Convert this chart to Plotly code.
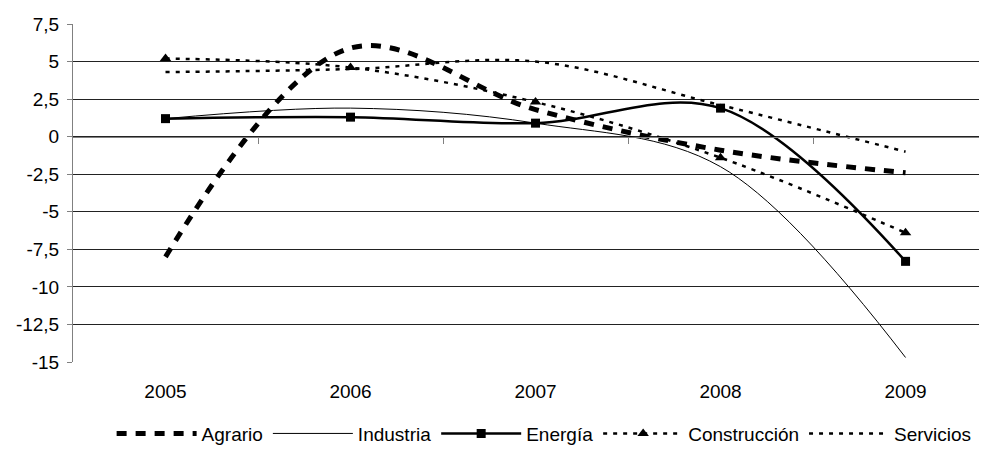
import plotly.graph_objects as go

years = ["2005", "2006", "2007", "2008", "2009"]
agrario = [-8.0, 5.9, 1.8, -0.9, -2.4]
industria = [1.2, 1.9, 0.9, -2.0, -14.7]
energia = [1.2, 1.3, 0.9, 1.9, -8.3]
construccion = [5.2, 4.6, 2.3, -1.4, -6.4]
servicios = [4.3, 4.5, 5.0, 2.1, -1.0]

ytick_vals = [7.5, 5, 2.5, 0, -2.5, -5, -7.5, -10, -12.5, -15]
ytick_text = ["7,5", "5", "2,5", "0", "-2,5", "-5", "-7,5", "-10", "-12,5", "-15"]

x = list(range(len(years)))
FONT = "Liberation Sans, Arial, sans-serif"
XMAX = 4.397

fig = go.Figure()
fig.add_trace(go.Scatter(x=x, y=agrario, name="Agrario", mode="lines",
                         line=dict(color="black", width=5, dash="10px,9px", shape="spline", smoothing=1)))
fig.add_trace(go.Scatter(x=x, y=industria, name="Industria", mode="lines",
                         line=dict(color="black", width=1, shape="spline", smoothing=1)))
fig.add_trace(go.Scatter(x=x, y=energia, name="Energía", mode="lines+markers",
                         line=dict(color="black", width=2.5, shape="spline", smoothing=1),
                         marker=dict(symbol="square", size=9, color="black")))
fig.add_trace(go.Scatter(x=x, y=construccion, name="Construcción", mode="lines+markers",
                         line=dict(color="black", width=2.5, dash="4px,6px", shape="spline", smoothing=1),
                         marker=dict(symbol="triangle-up", size=10, color="black")))
fig.add_trace(go.Scatter(x=x, y=servicios, name="Servicios", mode="lines",
                         line=dict(color="black", width=2.5, dash="4px,6px", shape="spline", smoothing=1)))

fig.update_layout(
    width=971, height=445, autosize=False,
    margin=dict(l=65, r=0, t=16, b=91),
    paper_bgcolor="white", plot_bgcolor="white",
    font=dict(family=FONT, size=19, color="black"),
    xaxis=dict(range=[-0.5, XMAX], tickvals=x, ticktext=years, showgrid=False,
               zeroline=False, showline=False, ticks="", ticklabelstandoff=16,
               tickfont=dict(size=19)),
    xaxis2=dict(overlaying="x", anchor="free", position=15/22.5, range=[-0.5, XMAX],
                tickvals=[0.5, 1.5, 2.5, 3.5], ticktext=["", "", "", ""],
                ticks="outside", ticklen=6, tickcolor="#808080", showline=True,
                linecolor="#808080", linewidth=1, showgrid=False, zeroline=False),
    yaxis=dict(range=[-15, 7.5], tickvals=ytick_vals, ticktext=ytick_text,
               showgrid=True, gridcolor="#222222", gridwidth=1, zeroline=False,
               showline=True, linecolor="#808080", linewidth=1,
               ticks="outside", ticklen=5, tickcolor="#808080",
               tickfont=dict(size=19), ticklabelstandoff=4),
    legend=dict(orientation="h", x=0.52, xanchor="center", y=-0.268, yanchor="bottom",
                font=dict(size=19), itemwidth=80, traceorder="normal"),
    showlegend=True,
)
fig.add_trace(go.Scatter(x=[None], y=[None], xaxis="x2", showlegend=False, hoverinfo="skip"))

fig.write_html("out.html")
